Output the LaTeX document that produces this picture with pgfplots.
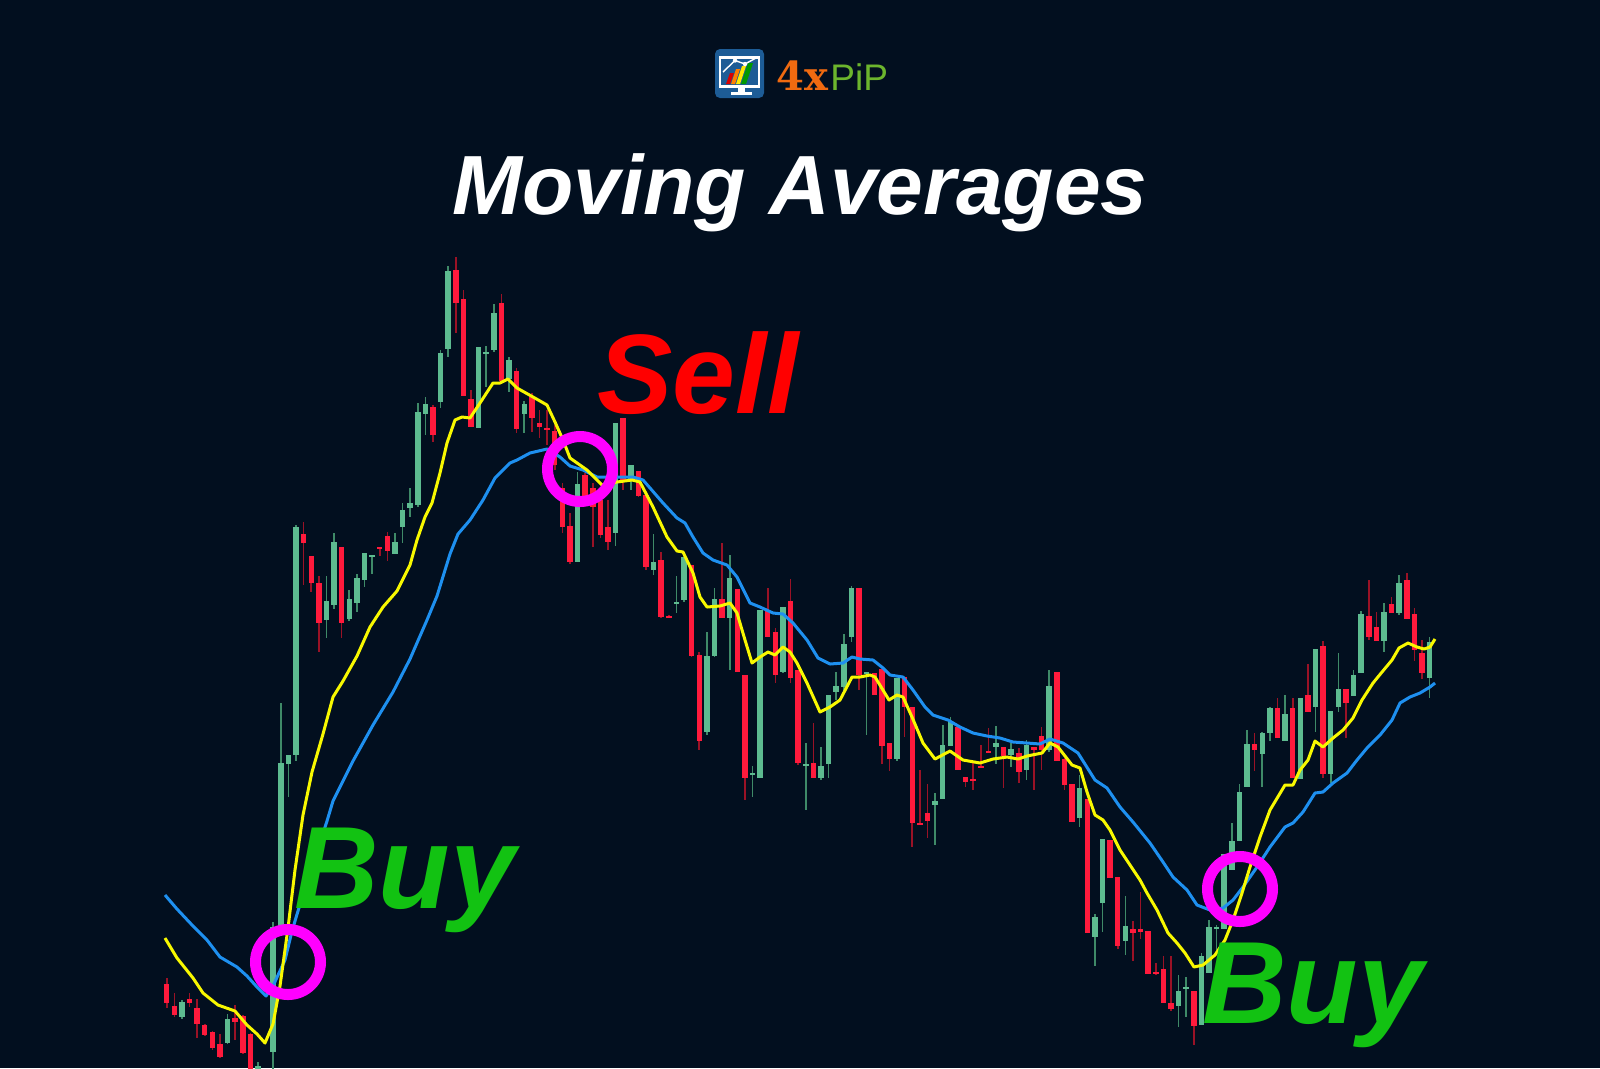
\documentclass[border=0pt]{standalone}
\usepackage{pgfplots}
\pgfplotsset{compat=1.18}
\usepackage{pgfplotstable}
\usepackage{fontspec}
\setmainfont{Liberation Sans}
\newfontfamily\djserif{DejaVu Serif}
\definecolor{bg}{HTML}{020F1F}
\definecolor{gbody}{HTML}{5DBB90}
\definecolor{gwick}{HTML}{3F8A68}
\definecolor{rbody}{HTML}{FF1A3C}
\definecolor{rwick}{HTML}{9A1226}
\definecolor{maY}{HTML}{F8F800}
\definecolor{maB}{HTML}{1E90F0}
\definecolor{buyg}{HTML}{12C212}
\definecolor{sellr}{HTML}{FF0000}
\definecolor{ring}{HTML}{FF00FF}
\definecolor{logoblue}{HTML}{1D5C96}
\definecolor{logoorange}{HTML}{F06A10}
\definecolor{logogreen}{HTML}{6CB52D}

% candles: index, wick top, body top, body bottom, wick bottom (pixel rows)
\pgfplotstableread{
i wt bt bb wb
3 1000 1002 1017 1019
9 1014 1019 1043 1044
13 1062 1066 1075 1085
15 922 927 1052 1080
16 703 763 926 927
17 755 755 764 797
18 525 527 755 761
22 576 601 620 638
23 533 542 605 609
25 590 599 619 621
26 574 578 603 612
27 553 553 580 587
28 555 555 557 574
31 533 542 554 554
32 503 510 527 543
33 488 503 508 517
34 403 412 505 507
35 397 404 414 435
37 350 353 402 408
38 266 271 349 357
42 347 347 428 428
43 346 352 353 387
44 304 313 350 352
46 357 360 379 392
48 401 404 414 433
55 472 484 562 562
60 423 423 533 546
62 465 465 480 490
65 534 562 570 575
68 576 602 603 613
69 557 557 600 602
72 632 656 732 735
73 588 599 656 657
75 555 578 618 670
78 766 773 775 797
79 610 610 778 778
82 607 607 672 673
85 743 764 766 810
87 747 766 778 780
88 695 695 764 778
89 672 686 692 700
90 634 644 687 692
91 586 588 637 642
93 672 672 674 735
97 678 678 759 761
102 793 801 805 845
103 725 745 799 799
104 717 722 746 746
110 726 743 747 764
112 743 749 755 767
114 740 745 770 780
117 670 686 750 752
121 775 788 818 827
123 914 917 937 966
124 839 839 903 932
127 896 926 941 955
134 975 991 1006 1027
135 977 987 989 1017
137 953 956 1025 1025
138 920 927 973 973
139 925 927 929 950
140 854 854 929 929
141 823 841 870 870
142 784 792 841 841
143 730 744 787 787
145 732 733 754 787
146 707 708 733 741
148 695 714 741 741
150 698 698 779 779
152 649 649 707 732
154 711 711 774 783
155 653 689 707 712
157 670 675 696 696
158 611 614 673 673
161 603 612 641 652
163 575 583 613 615
167 637 642 678 698
}\greentab

\pgfplotstableread{
i wt bt bb wb
1 978 984 1003 1008
2 993 1006 1015 1017
4 993 999 1003 1007
5 999 1008 1024 1038
6 1024 1025 1035 1036
7 1031 1032 1048 1050
8 1034 1044 1057 1058
10 1005 1018 1022 1040
11 1015 1016 1053 1054
12 1033 1034 1080 1085
14 1070 1075 1095 1100
19 522 534 543 585
20 556 556 583 592
21 576 583 623 652
24 547 547 623 638
29 547 547 548 556
30 532 536 551 561
36 405 407 435 442
39 257 270 303 333
40 290 299 396 396
41 390 399 427 427
45 294 303 381 381
47 368 371 429 433
49 393 397 418 432
50 410 423 427 438
51 410 428 429 445
52 425 431 465 470
53 483 488 527 533
54 513 526 562 564
56 473 475 497 498
57 483 488 507 547
58 500 500 535 538
59 500 527 542 550
61 418 418 480 490
63 471 471 496 497
64 495 495 567 570
66 552 560 617 618
67 615 616 617 618
70 565 565 656 657
71 652 655 741 750
74 543 599 618 618
76 589 589 672 672
77 675 675 778 800
80 588 610 637 637
81 628 632 675 683
83 579 601 678 683
84 670 670 763 765
86 723 763 778 778
92 588 588 675 690
94 673 673 695 695
95 669 669 746 764
96 743 743 759 771
98 677 677 707 737
99 707 707 823 847
100 770 823 824 824
101 784 813 821 838
105 727 727 770 770
106 777 777 782 787
107 763 779 780 790
108 745 766 767 767
109 728 751 752 753
111 747 747 756 788
113 748 753 772 783
115 747 747 750 790
116 727 736 750 770
118 672 672 761 761
119 758 759 785 790
120 784 784 822 822
122 799 799 933 933
125 840 840 878 878
126 877 877 946 949
128 921 929 933 961
129 892 929 932 939
130 931 931 974 974
131 963 972 974 975
132 956 969 1003 1003
133 956 1003 1009 1011
136 991 991 1026 1045
144 733 744 750 771
147 698 708 738 738
149 698 708 778 778
151 664 695 712 712
153 641 646 774 778
156 689 689 703 738
159 580 616 637 640
160 612 627 641 641
162 597 604 613 613
164 573 580 619 619
165 608 614 650 661
166 640 653 673 679
}\redtab

\pgfplotsset{
  wick/.style={draw=none, mark=none, forget plot,
    error bars/.cd, y dir=both, y explicit, error mark=none,
    error bar style={draw=#1, line width=0.8pt}},
  body/.style={draw=none, mark=none, forget plot,
    error bars/.cd, y dir=both, y explicit, error mark=none,
    error bar style={draw=#1, line width=2.75pt}},
}

\begin{document}
\begin{tikzpicture}
\begin{axis}[
  scale only axis, width=800pt, height=534pt,
  xmin=0, xmax=1600, ymin=0, ymax=1068, y dir=reverse,
  hide axis, clip=true,
]
\fill[bg] (axis cs:0,0) rectangle (axis cs:1600,1068);

% wicks
\addplot[wick=gwick] table[x expr={166.7+7.608*(\thisrow{i}-1)}, y expr={0.5*(\thisrow{wt}+\thisrow{wb})}, y error expr={0.5*(\thisrow{wb}-\thisrow{wt})}] {\greentab};
\addplot[wick=rwick] table[x expr={166.7+7.608*(\thisrow{i}-1)}, y expr={0.5*(\thisrow{wt}+\thisrow{wb})}, y error expr={0.5*(\thisrow{wb}-\thisrow{wt})}] {\redtab};
% bodies
\addplot[body=gbody] table[x expr={166.7+7.608*(\thisrow{i}-1)}, y expr={0.5*(\thisrow{bt}+\thisrow{bb})}, y error expr={max(0.5*(\thisrow{bb}-\thisrow{bt}),1.0)}] {\greentab};
\addplot[body=rbody] table[x expr={166.7+7.608*(\thisrow{i}-1)}, y expr={0.5*(\thisrow{bt}+\thisrow{bb})}, y error expr={max(0.5*(\thisrow{bb}-\thisrow{bt}),1.0)}] {\redtab};

% slow moving average (blue)
\addplot[maB, line width=1.5pt, line join=round, mark=none] coordinates {
(165,895) (177,909) (193,926) (207,940) (220,957) (237,967) (247,976) (257,987) (266,996) (273,986) (285,960) (292,931) (298,911) (327,821) (333,801) (353,761) (373,725) (393,692) (410,659) (427,620) (437,596) (450,554) (458,534) (470,520) (483,500) (495,478) (510,463) (517,460) (530,453) (547,449) (560,457) (570,466) (583,470) (597,477) (613,477) (633,477) (643,480) (650,488) (663,503) (677,518) (685,523) (693,537) (703,553) (713,560) (727,565) (737,577) (750,603) (760,607) (773,613) (783,614) (793,623) (807,640) (818,658) (830,664) (843,663) (852,657) (860,659) (873,660) (883,668) (890,675) (903,677) (913,690) (925,707) (933,715) (948,720) (960,727) (973,733) (987,736) (1000,738) (1013,742) (1027,743) (1040,744) (1050,739) (1063,743) (1078,753) (1095,780) (1107,788) (1120,807) (1133,822) (1150,843) (1163,862) (1173,877) (1187,890) (1197,905) (1210,910) (1223,908) (1233,900) (1243,887) (1257,867) (1270,847) (1285,827) (1293,823) (1303,812) (1315,793) (1323,792) (1333,783) (1347,773) (1357,760) (1367,748) (1380,735) (1392,720) (1400,703) (1410,697) (1420,693) (1430,687) (1435,683)
};
% fast moving average (yellow)
\addplot[maY, line width=1.5pt, line join=round, mark=none] coordinates {
(165,938) (177,958) (193,978) (203,993) (218,1005) (235,1011) (247,1025) (257,1034) (265,1043) (273,1024) (280,986) (288,928) (295,870) (303,815) (312,772) (323,734) (333,697) (343,681) (357,656) (370,627) (383,607) (397,591) (410,565) (417,540) (425,517) (432,503) (440,473) (447,443) (455,420) (462,417) (470,418) (480,403) (493,383) (500,383) (508,379) (517,388) (533,397) (547,405) (555,422) (563,440) (570,458) (587,470) (602,485) (617,482) (632,480) (640,482) (653,507) (667,537) (677,551) (683,552) (693,573) (700,597) (707,607) (720,606) (730,603) (737,613) (745,640) (752,663) (760,657) (768,652) (775,655) (783,647) (790,652) (797,663) (807,683) (820,712) (830,707) (840,700) (852,677) (860,677) (870,675) (875,677) (889,700) (897,695) (903,697) (912,717) (923,743) (935,759) (950,751) (963,760) (980,763) (993,759) (1007,757) (1018,759) (1027,756) (1042,753) (1050,743) (1058,747) (1072,765) (1080,768) (1087,792) (1095,815) (1103,820) (1110,830) (1120,850) (1130,865) (1140,880) (1147,893) (1157,910) (1168,933) (1177,943) (1185,953) (1194,967) (1203,965) (1215,955) (1225,940) (1233,920) (1242,893) (1250,867) (1260,837) (1270,810) (1285,785) (1293,785) (1300,770) (1308,760) (1315,741) (1323,747) (1333,738) (1343,730) (1353,718) (1362,700) (1373,683) (1382,672) (1392,660) (1399,648) (1408,643) (1417,647) (1424,649) (1430,647) (1435,639)
};

% crossover rings
\draw[ring, line width=5.5pt] (axis cs:288,962) circle[radius=16.25pt];
\draw[ring, line width=5.5pt] (axis cs:580,469) circle[radius=16.25pt];
\draw[ring, line width=5.5pt] (axis cs:1240,889) circle[radius=16.25pt];

% texts
\node[anchor=base, text=white, font=\bfseries\itshape\fontsize{42}{50}\selectfont, inner sep=0pt] at (axis cs:800,214) {Moving Averages};
\node[anchor=base, text=sellr, font=\bfseries\itshape\fontsize{56.5}{66}\selectfont, inner sep=0pt] at (axis cs:698,413) {Sell};
\node[anchor=base, text=buyg, font=\bfseries\itshape\fontsize{58.5}{68}\selectfont, inner sep=0pt] at (axis cs:405,908) {Buy};
\node[anchor=base, text=buyg, font=\bfseries\itshape\fontsize{58.5}{68}\selectfont, inner sep=0pt] at (axis cs:1313,1023) {Buy};

% logo
\fill[logoblue, rounded corners=2.5pt] (axis cs:715,49) rectangle (axis cs:764,98);
\draw[white, line width=1.1pt] (axis cs:720,57.5) rectangle (axis cs:759,86.5);
\fill[red!85!black] (axis cs:726,84) -- (axis cs:730,73) -- (axis cs:734,73) -- (axis cs:730,84) -- cycle;
\fill[orange] (axis cs:731,84) -- (axis cs:736,69) -- (axis cs:740,69) -- (axis cs:735,84) -- cycle;
\fill[yellow!90!orange] (axis cs:736,84) -- (axis cs:742,66) -- (axis cs:746,66) -- (axis cs:740,84) -- cycle;
\fill[green!60!black] (axis cs:741,84) -- (axis cs:748,63) -- (axis cs:753,63) -- (axis cs:746,84) -- cycle;
\draw[white, line width=0.7pt] (axis cs:723,72) -- (axis cs:735,60.5) -- (axis cs:745,64) -- (axis cs:756,58);
\fill[white] (axis cs:735,60.5) circle[radius=1.1pt] (axis cs:745,64) circle[radius=1.1pt];
\fill[white] (axis cs:738,87) rectangle (axis cs:745,92);
\fill[white] (axis cs:731,92) rectangle (axis cs:752,95);
\node[anchor=base west, inner sep=0pt, text=logoorange, font=\djserif\bfseries\fontsize{20}{24}\selectfont] at (axis cs:776,90) {4x};
\node[anchor=base west, inner sep=0pt, text=logogreen, font=\fontsize{18.5}{22}\selectfont] at (axis cs:830,90) {PiP};
\end{axis}
\end{tikzpicture}
\end{document}
